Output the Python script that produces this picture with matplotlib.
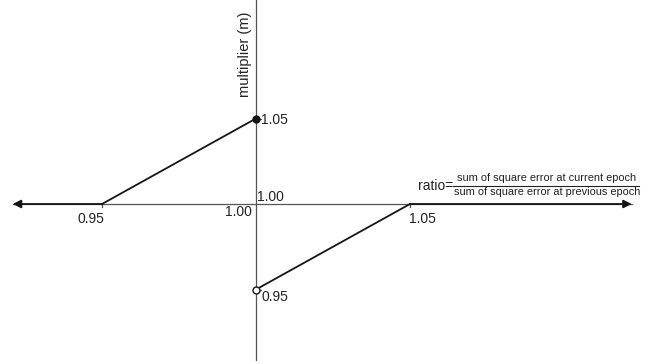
import matplotlib
matplotlib.use("Agg")
import matplotlib.pyplot as plt

plt.rcParams['font.family'] = ['Liberation Sans', 'DejaVu Sans']

# data
left_x = [0.921, 0.95]
left_y = [1.00, 1.00]
upper_x = [0.95, 1.00]
upper_y = [1.00, 1.05]
lower_x = [1.00, 1.05]
lower_y = [0.95, 1.00]
right_x = [1.05, 1.122]
right_y = [1.00, 1.00]
x_ticks = [0.95, 1.05]
x_tick_labels = ["0.95", "1.05"]
y_ticks = [1.05, 0.95]
y_tick_labels = ["1.05", "0.95"]
y_label = "multiplier (m)"
ratio_num = "sum of square error at current epoch"
ratio_den = "sum of square error at previous epoch"

W, H = 646, 364
fig = plt.figure(figsize=(W / 100, H / 100), dpi=100)
ax = fig.add_axes([0, 0, 1, 1])
xpp = 0.05 / 154.0
ypp = 0.05 / 85.5
ax.set_xlim(1 - 256 * xpp, 1 + (W - 256) * xpp)
ax.set_ylim(1 - (H - 204) * ypp, 1 + 204 * ypp)
ax.axis('off')

axc = '#555555'
dc = '#151515'
# horizontal axis (thin) and vertical axis
ax.plot([left_x[0], right_x[1]], [1.0, 1.0], color=axc, lw=0.9)
ax.plot([1.0, 1.0], [1 - 156 * ypp, 1 + 204 * ypp], color=axc, lw=0.9)

# outer segments with arrows
ax.annotate('', xy=(left_x[0], left_y[0]), xytext=(left_x[1], left_y[1]),
            arrowprops=dict(arrowstyle='-|>', color=dc, lw=1.3,
                            mutation_scale=12, shrinkA=0, shrinkB=0))
ax.annotate('', xy=(right_x[1], right_y[1]), xytext=(right_x[0], right_y[0]),
            arrowprops=dict(arrowstyle='-|>', color=dc, lw=1.3,
                            mutation_scale=12, shrinkA=0, shrinkB=0))

# ticks
for xt in x_ticks:
    ax.plot([xt, xt], [1.0, 1.0 - 3 * ypp], color=axc, lw=0.9)
for yt in y_ticks:
    ax.plot([1.0, 1.0 + 5 * xpp], [yt, yt], color=axc, lw=0.9)

# segments
ax.plot(upper_x, upper_y, color=dc, lw=1.3)
ax.plot(lower_x, lower_y, color=dc, lw=1.3)
ax.plot([1.0], [1.05], 'o', color=dc, ms=5, zorder=5)
ax.plot([1.0], [0.95], 'o', mfc='white', mec=dc, ms=5, mew=1, zorder=5)

fs = 10
tc = '#222222'
ax.text(x_ticks[0] + 2 * xpp, 1.0 - 8 * ypp, x_tick_labels[0], ha='right', va='top', fontsize=fs, color=tc)
ax.text(x_ticks[1] - 1 * xpp, 1.0 - 8 * ypp, x_tick_labels[1], ha='left', va='top', fontsize=fs, color=tc)
ax.text(1.0 + 5 * xpp, y_ticks[0] - 2 * ypp, y_tick_labels[0], ha='left', va='center', fontsize=fs, color=tc)
ax.text(1.0 + 6 * xpp, y_ticks[1] - 7 * ypp, y_tick_labels[1], ha='left', va='center', fontsize=fs, color=tc)
ax.text(1.0 + 1 * xpp, 1.0 + 7 * ypp, "1.00", ha='left', va='center', fontsize=fs, color=tc)
ax.text(1.0 - 4 * xpp, 1.0 - 8 * ypp, "1.00", ha='right', va='center', fontsize=fs, color=tc)

ax.text(1.0 - 11 * xpp, 1 + 150 * ypp, y_label, rotation=90, ha='center', va='center',
        fontsize=10.5, color=tc)

# ratio fraction
x0 = 1 + (453 - 256) * xpp
x1 = 1 + (639 - 256) * xpp
cx = (x0 + x1) / 2 + 1 * xpp
ax.text(x0, 1 + 18 * ypp, "ratio=", ha='right', va='center', fontsize=fs, color=tc)
ax.plot([x0, x1], [1 + 18 * ypp] * 2, color=tc, lw=0.8)
ax.text(cx, 1 + 26 * ypp, ratio_num, ha='center', va='center', fontsize=7.9, color=tc)
ax.text(cx, 1 + 12 * ypp, ratio_den, ha='center', va='center', fontsize=7.9, color=tc)

fig.savefig('out.png', dpi=100)
